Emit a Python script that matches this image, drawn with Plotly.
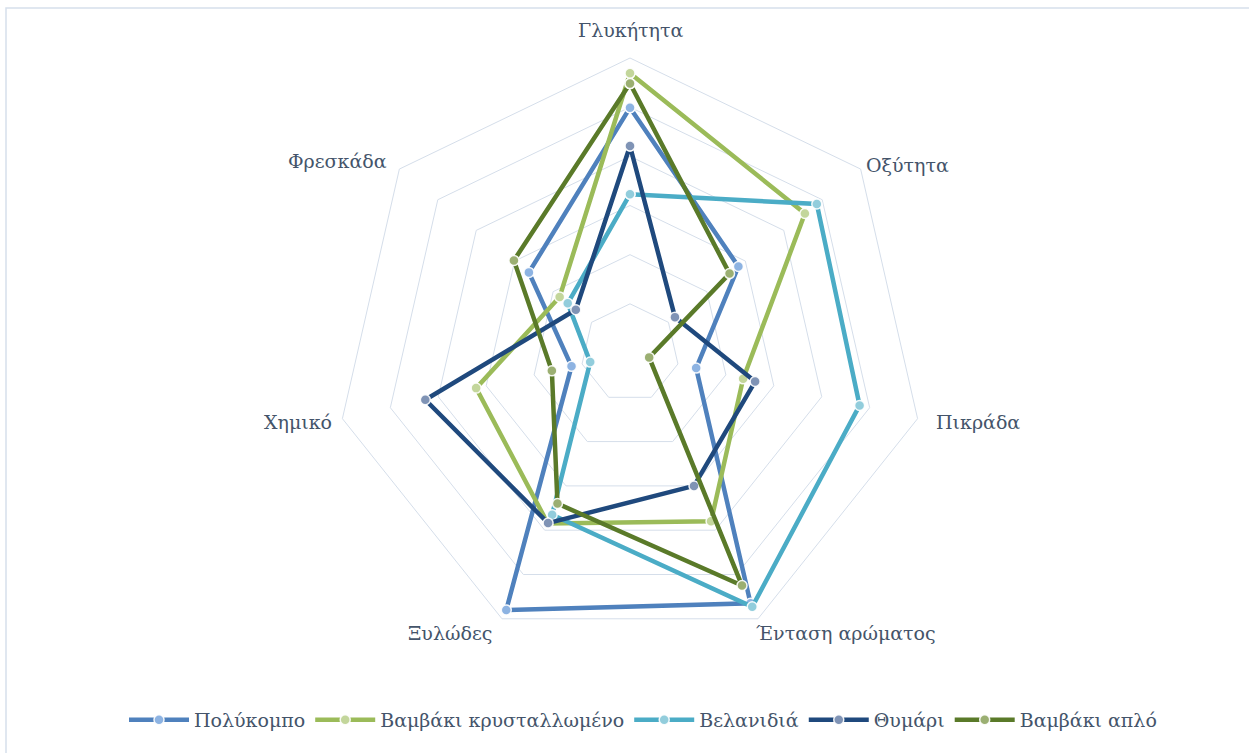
import plotly.graph_objects as go

# Sensory attributes (clockwise from the top)
attributes = ["Γλυκήτητα", "Οξύτητα", "Πικράδα", "Ένταση αρώματος",
              "Ξυλώδες", "Χημικό", "Φρεσκάδα"]

# Scores per honey type
polykompo = [4.99, 2.82, 1.38, 5.65, 5.80, 1.22, 2.63]
vamvaki_kryst = [5.69, 4.55, 2.36, 3.80, 3.85, 3.21, 1.83]
velanidia = [3.23, 4.86, 4.79, 5.73, 3.65, 0.83, 1.62]
thymari = [4.21, 1.17, 2.61, 3.00, 3.84, 4.27, 1.41]
vamvaki_aplo = [5.48, 2.59, 0.40, 5.25, 3.40, 1.63, 3.02]

series = [
    ("Πολύκομπο", polykompo, "#4F81BD", "#8DB3E2"),
    ("Βαμβάκι κρυσταλλωμένο", vamvaki_kryst, "#9BBB59", "#C3D69B"),
    ("Βελανιδιά", velanidia, "#4BACC6", "#92CDDC"),
    ("Θυμάρι", thymari, "#1F497D", "#7F93B5"),
    ("Βαμβάκι απλό", vamvaki_aplo, "#5A7A29", "#9BAF72"),
]

W, H = 1249, 753
cx, cy, R = 630, 353, 295
text_color = "#44546A"
grid_color = "#D5DEEA"
font_family = "DejaVu Serif"
font_size = 19

# Category label anchors (pixel x, pixel y, horizontal anchor)
label_anchor = {
    "Γλυκήτητα": (630, 30, "center"),
    "Οξύτητα": (864, 165, "left"),
    "Πικράδα": (934, 422, "left"),
    "Ένταση αρώματος": (754, 633, "left"),
    "Ξυλώδες": (494, 633, "right"),
    "Χημικό": (334, 422, "right"),
    "Φρεσκάδα": (389, 161, "right"),
}

fig = go.Figure()
for name, vals, line_c, fill_c in series:
    fig.add_trace(go.Scatterpolar(
        r=vals + vals[:1],
        theta=attributes + attributes[:1],
        name=name,
        mode="lines+markers",
        line=dict(color=line_c, width=4.5),
        marker=dict(size=10, color=fill_c,
                    line=dict(color="rgba(255,255,255,0.9)", width=1.5)),
    ))

annotations = []
for cat in attributes:
    px, py, anchor = label_anchor[cat]
    annotations.append(dict(
        text=cat, xref="paper", yref="paper",
        x=px / W, y=1 - py / H, xanchor=anchor, yanchor="middle",
        showarrow=False,
        font=dict(family=font_family, size=font_size, color=text_color),
    ))

fig.update_layout(
    width=W, height=H,
    margin=dict(l=0, r=0, t=0, b=0),
    paper_bgcolor="white",
    font=dict(family=font_family, size=font_size, color=text_color),
    polar=dict(
        domain=dict(x=[(cx - R) / W, (cx + R) / W],
                    y=[(H - cy - R) / H, (H - cy + R) / H]),
        bgcolor="white",
        gridshape="linear",
        radialaxis=dict(range=[0, 6], dtick=1, showticklabels=False,
                        ticks="", showline=False, gridcolor=grid_color,
                        gridwidth=1),
        angularaxis=dict(rotation=90, direction="clockwise",
                         showgrid=False, showline=True,
                         linecolor=grid_color, linewidth=1, ticks="",
                         showticklabels=False),
    ),
    legend=dict(orientation="h", x=643 / W, xanchor="center",
                y=(H - 720) / H, yanchor="middle",
                font=dict(family=font_family, size=font_size,
                          color=text_color),
                itemwidth=60, tracegroupgap=0),
    annotations=annotations,
    shapes=[dict(type="rect", xref="paper", yref="paper",
                 x0=6 / W, x1=1.02, y0=-0.02, y1=1 - 8 / H,
                 line=dict(color="#D6E0EC", width=1.5))],
)

fig.write_html("out.html")
